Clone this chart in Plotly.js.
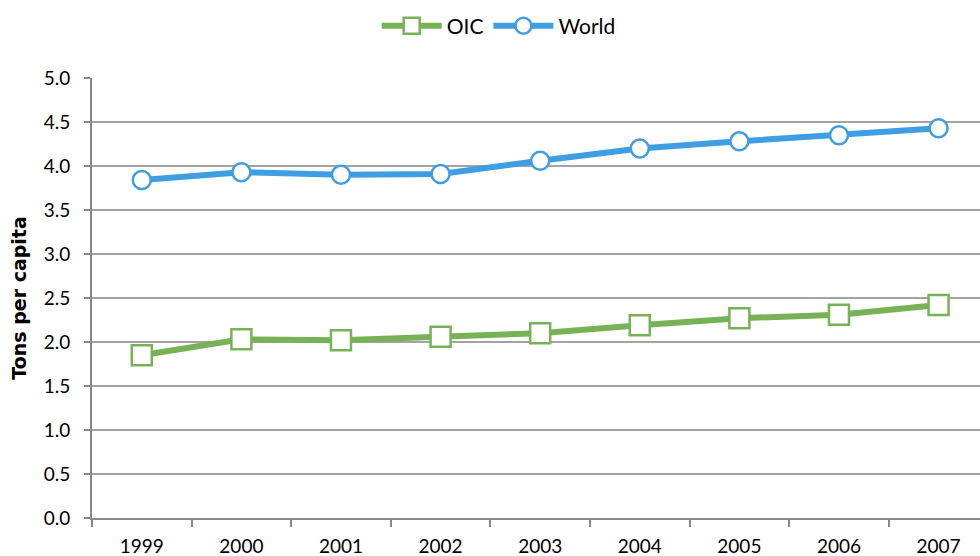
<!DOCTYPE html>
<html>
<head>
<meta charset="utf-8">
<script src="https://cdn.plot.ly/plotly-3.0.1.min.js"></script>
<style>html,body{margin:0;padding:0;background:#fff;}#chart{width:980px;height:556px;}</style>
</head>
<body>
<div id="chart"></div>
<script>
const years = ["1999","2000","2001","2002","2003","2004","2005","2006","2007"];
const oic = [1.85, 2.03, 2.02, 2.06, 2.10, 2.19, 2.27, 2.31, 2.42];
const world = [3.84, 3.93, 3.90, 3.91, 4.06, 4.20, 4.28, 4.35, 4.43];
const yTicks = [0, 0.5, 1, 1.5, 2, 2.5, 3, 3.5, 4, 4.5, 5];
const yTickText = ["0.0","0.5","1.0","1.5","2.0","2.5","3.0","3.5","4.0","4.5","5.0"];

const traces = [
  {x: years, y: oic, name: "OIC", type: "scatter", mode: "lines+markers",
   line: {color: "#77b356", width: 6},
   marker: {symbol: "square", size: 20, color: "#ffffff", line: {color: "#77b356", width: 2.5}}},
  {x: years, y: world, name: "World", type: "scatter", mode: "lines+markers",
   line: {color: "#3f9de2", width: 6},
   marker: {symbol: "circle", size: 18, color: "#ffffff", line: {color: "#3f9de2", width: 2.5}}}
];

const layout = {
  width: 980, height: 556,
  margin: {l: 92, r: 0, t: 78, b: 38},
  paper_bgcolor: "#fff", plot_bgcolor: "#fff",
  font: {family: "Lato, 'Open Sans', sans-serif", size: 19, color: "#000"},
  showlegend: true,
  legend: {orientation: "h", x: 0.458, xanchor: "center", y: 1.118, yanchor: "middle",
           font: {size: 21}, itemwidth: 60, traceorder: "normal"},
  xaxis: {type: "category", range: [-0.5, 8.416], showgrid: false, zeroline: false,
          showline: true, linecolor: "#898989", linewidth: 2,
          ticks: "outside", tickson: "boundaries", ticklen: 7, tickcolor: "#898989", tickwidth: 2,
          ticklabelstandoff: 10, tickfont: {size: 19}},
  yaxis: {range: [0, 5], tickvals: yTicks, ticktext: yTickText, showgrid: true, gridcolor: "#a3a3a3", gridwidth: 2,
          zeroline: false, showline: true, linecolor: "#898989", linewidth: 2,
          ticks: "outside", ticklen: 6, tickcolor: "#898989", tickwidth: 2,
          ticklabelstandoff: 10, tickfont: {size: 19},
          title: {text: "<b>Tons per capita</b>", font: {family: "'DejaVu Sans', sans-serif", size: 19}, standoff: 12}}
};
Plotly.newPlot("chart", traces, layout, {displayModeBar: false, staticPlot: true});
</script>
</body>
</html>
